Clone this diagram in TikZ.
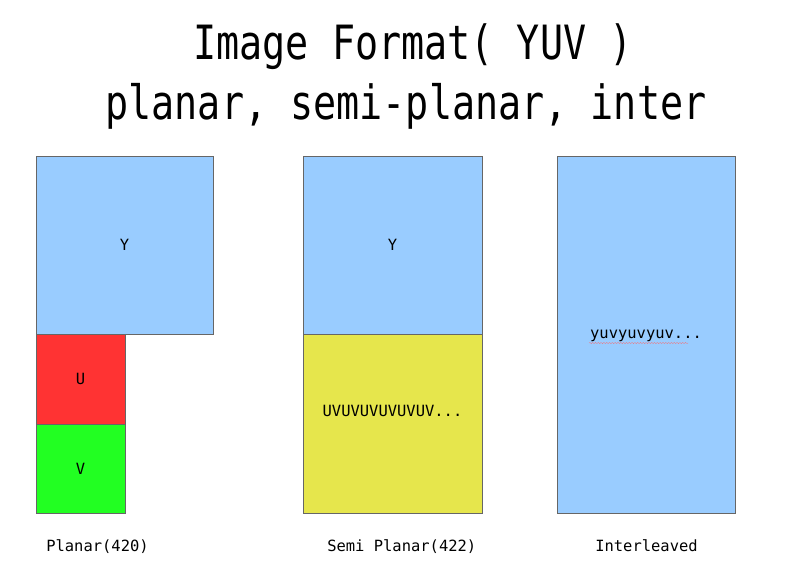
\documentclass[tikz,border=0pt]{standalone}
\usepackage{fontspec}
\setmonofont{DejaVu Sans Mono}
\usepackage{xcolor}
\usetikzlibrary{decorations.pathmorphing}
\definecolor{lumablue}{HTML}{99CCFF}
\definecolor{chromared}{HTML}{FF3333}
\definecolor{chromagreen}{HTML}{22FF22}
\definecolor{chromayellow}{HTML}{E6E64C}

\begin{document}
\begin{tikzpicture}[x=0.025cm, y=-0.025cm]
    \tikzstyle{plane}=[draw=black!60, thin, rectangle, inner sep=0pt, font=\ttfamily\fontsize{11}{13}\selectfont]
    \tikzstyle{luma}=[plane, fill=lumablue];
    \tikzstyle{title}=[anchor=base, inner sep=0pt, font=\ttfamily\fontsize{27.3}{32}\selectfont]
    \tikzstyle{caption}=[anchor=base west, inner sep=0pt, font=\ttfamily\fontsize{11}{13}\selectfont]

    \useasboundingbox (0,0) rectangle (800,579);

    % title
    \node[title] (t1) at (413,59) {\scalebox{1}[1.23]{Image Format( YUV )}};
    \node[title] (t2) at (406,119) {\scalebox{1}[1.23]{planar, semi-planar, inter}};

    % planar
    \node[luma, minimum width=4.425cm, minimum height=4.45cm] (PY) at (124.5,245) {Y};
    \node[plane, fill=chromared, minimum width=2.225cm, minimum height=2.25cm] (PU) at (80.5,379) {U};
    \node[plane, fill=chromagreen, minimum width=2.225cm, minimum height=2.225cm] (PV) at (80.5,468.5) {V};

    % semi planar
    \node[luma, minimum width=4.475cm, minimum height=4.45cm] (SY) at (392.5,245) {Y};
    \node[plane, fill=chromayellow, minimum width=4.475cm, minimum height=4.475cm] (SUV) at (392.5,423.5) {};
    \node[font=\ttfamily\fontsize{11}{13}\selectfont] (SUV-t) at (392.5,411) {UVUVUVUVUVUV...};

    % interleaved
    \node[luma, minimum width=4.45cm, minimum height=8.925cm] (IL) at (646,334.5) {};
    \node[font=\ttfamily\fontsize{11}{13}\selectfont] (IL-t) at (646,336) {yuvyuvyuv...};
    \coordinate (sq-a) at (589,343);
    \coordinate (sq-b) at (688,343);
    \draw[red!60, very thin, decorate, decoration={snake, amplitude=0.4pt, segment length=2pt}] (sq-a) -- (sq-b);

    \node[caption] (c1) at (46,551) {Planar(420)};
    \node[caption] (c2) at (327,551) {Semi Planar(422)};
    \node[caption] (c3) at (595,551) {Interleaved};
\end{tikzpicture}
\end{document}
